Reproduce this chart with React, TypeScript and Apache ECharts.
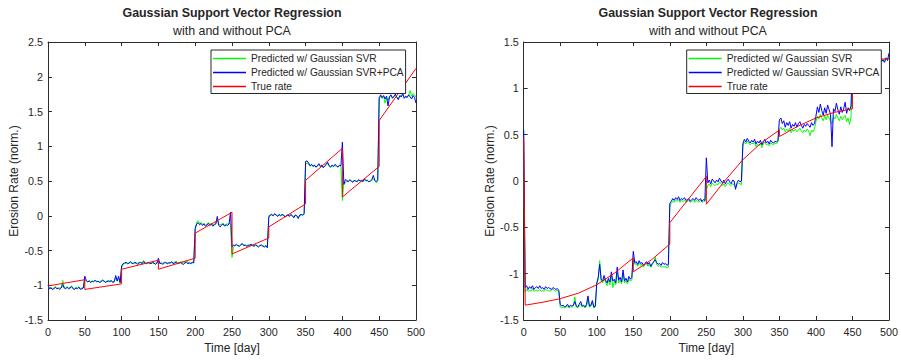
import React, { useEffect, useRef } from "react";
import * as echarts from "echarts";

// ---------- DATA ----------
const TITLE = "Gaussian Support Vector Regression";
const SUBTITLE = "with and without PCA";
const X_NAME = "Time [day]";
const Y_NAME = "Erosion Rate (norm.)";
const SERIES_NAMES = ["Predicted w/ Gaussian SVR", "Predicted w/ Gaussian SVR+PCA", "True rate"];

// sample days for predicted series: 0, 2, 4, ..., 500
const DAY_STEP = 2;
const N_SAMPLES = 251;
const DAYS = Array.from({ length: N_SAMPLES }, (_, i) => i * DAY_STEP);

// Left panel — predicted (Gaussian SVR)
const svrL = [
  -1.02,-1.04,-1.03,-1.05,-1.04,-1.02,-1.04,-1.05,-1.04,-1.03,-0.93,-1.03,-1.04,-1.02,-1.04,-1.03,-1.01,-1.04,-1.05,-1.03,-1.04,-1.02,-1.05,-1.04,-1.03,
  -0.93,-0.94,-0.95,-0.93,-0.95,-0.95,-0.94,-0.93,-0.94,-0.95,-0.95,-0.94,-0.92,-0.94,-0.95,-0.94,-0.93,-0.94,-0.94,-0.95,-0.94,-0.89,-0.93,-0.90,-0.97,
  -0.75,-0.70,-0.69,-0.68,-0.68,-0.69,-0.67,-0.69,-0.68,-0.68,-0.69,-0.68,-0.67,-0.68,-0.68,-0.64,-0.69,-0.68,-0.68,-0.69,-0.68,-0.68,-0.69,-0.68,-0.69,
  -0.66,-0.68,-0.69,-0.68,-0.67,-0.68,-0.68,-0.67,-0.68,-0.67,-0.68,-0.67,-0.65,-0.68,-0.67,-0.68,-0.66,-0.68,-0.67,-0.64,-0.68,-0.67,-0.68,-0.68,-0.67,
  -0.20,-0.09,-0.07,-0.11,-0.10,-0.12,-0.11,-0.13,-0.12,-0.10,-0.12,-0.11,-0.13,-0.12,-0.11,-0.06,-0.12,-0.13,-0.12,-0.11,-0.13,-0.12,-0.12,-0.11,-0.12,
  -0.60,-0.45,-0.43,-0.42,-0.43,-0.43,-0.41,-0.41,-0.42,-0.43,-0.43,-0.42,-0.43,-0.42,-0.43,-0.43,-0.42,-0.44,-0.44,-0.42,-0.43,-0.43,-0.44,-0.44,-0.45,
  0.00,0.01,0.01,0.00,0.02,0.01,0.00,0.01,0.00,0.01,0.01,-0.01,0.00,0.01,0.00,0.01,0.00,-0.01,0.01,0.00,-0.02,0.00,0.01,0.01,0.02,
  0.74,0.76,0.74,0.71,0.73,0.71,0.72,0.70,0.71,0.73,0.71,0.72,0.70,0.71,0.73,0.75,0.71,0.70,0.72,0.71,0.72,0.71,0.70,0.72,0.71,
  0.22,0.48,0.47,0.50,0.49,0.51,0.50,0.49,0.50,0.50,0.49,0.51,0.50,0.50,0.49,0.52,0.50,0.50,0.49,0.50,0.51,0.53,0.50,0.48,0.49,
  1.68,1.72,1.69,1.72,1.62,1.70,1.66,1.72,1.73,1.70,1.71,1.73,1.71,1.69,1.72,1.72,1.74,1.70,1.71,1.71,1.73,1.80,1.72,1.76,1.74,
  1.70,
];

// Left panel — predicted (Gaussian SVR + PCA)
const pcaL = [
  -1.00,-1.05,-1.04,-1.06,-1.05,-1.03,-1.05,-1.04,-1.06,-1.04,-0.99,-1.04,-1.05,-1.03,-1.05,-1.04,-1.02,-1.05,-1.06,-1.04,-1.05,-1.03,-1.06,-1.05,-1.04,
  -0.87,-0.93,-0.95,-0.94,-0.96,-0.94,-0.95,-0.93,-0.95,-0.94,-0.96,-0.95,-0.93,-0.94,-0.96,-0.95,-0.94,-0.95,-0.93,-0.96,-0.95,-0.86,-0.94,-0.87,-0.96,
  -0.72,-0.69,-0.68,-0.67,-0.69,-0.68,-0.66,-0.68,-0.69,-0.67,-0.68,-0.70,-0.68,-0.67,-0.69,-0.66,-0.68,-0.69,-0.67,-0.68,-0.69,-0.67,-0.68,-0.70,-0.68,
  -0.61,-0.69,-0.68,-0.70,-0.68,-0.67,-0.69,-0.68,-0.68,-0.66,-0.69,-0.68,-0.67,-0.69,-0.68,-0.67,-0.69,-0.70,-0.68,-0.67,-0.69,-0.68,-0.69,-0.67,-0.68,
  -0.18,-0.12,-0.10,-0.13,-0.11,-0.14,-0.12,-0.15,-0.13,-0.11,-0.14,-0.12,-0.15,-0.13,-0.12,-0.01,-0.14,-0.16,-0.13,-0.12,-0.15,-0.13,-0.14,-0.12,0.05,
  -0.45,-0.42,-0.43,-0.41,-0.43,-0.44,-0.42,-0.40,-0.43,-0.42,-0.44,-0.43,-0.42,-0.41,-0.43,-0.44,-0.42,-0.43,-0.45,-0.43,-0.42,-0.44,-0.45,-0.43,-0.46,
  -0.02,0.01,0.02,0.00,0.03,0.01,-0.01,0.02,0.00,0.02,0.01,-0.02,0.00,0.01,-0.01,0.02,0.00,-0.03,0.01,0.00,-0.04,0.01,0.02,0.01,0.03,
  0.78,0.79,0.76,0.72,0.74,0.71,0.73,0.70,0.72,0.75,0.71,0.73,0.69,0.72,0.74,0.77,0.72,0.70,0.73,0.71,0.74,0.72,0.70,0.73,0.72,
  1.06,0.45,0.52,0.51,0.49,0.52,0.50,0.48,0.51,0.50,0.49,0.52,0.50,0.51,0.49,0.53,0.51,0.51,0.49,0.50,0.52,0.58,0.51,0.49,0.52,
  1.70,1.74,1.70,1.73,1.68,1.72,1.58,1.71,1.74,1.69,1.72,1.75,1.70,1.67,1.73,1.71,1.76,1.69,1.72,1.70,1.74,1.71,1.68,1.73,1.70,
  1.62,
];

// Left panel — true rate (day, value)
const trueDaysL = [0, 50, 50, 100, 100, 150, 150, 200, 200, 250, 250, 300, 300, 350, 350, 400, 400, 450, 450, 500];
const trueRateL = [-1.01, -0.92, -1.06, -0.98, -0.77, -0.64, -0.77, -0.61, -0.25, 0.05, -0.55, -0.32, -0.16, 0.17, 0.51, 0.97, 0.27, 0.71, 1.37, 2.12];

// Right panel — predicted (Gaussian SVR)
const svrR = [
  0.42,-1.20,-1.17,-1.19,-1.18,-1.19,-1.16,-1.19,-1.18,-1.18,-1.19,-1.17,-1.19,-1.18,-1.19,-1.17,-1.18,-1.18,-1.19,-1.18,-1.17,-1.18,-1.19,-1.18,-1.19,
  -1.36,-1.37,-1.36,-1.37,-1.36,-1.35,-1.37,-1.36,-1.36,-1.35,-1.25,-1.36,-1.37,-1.35,-1.33,-1.36,-1.35,-1.37,-1.35,-1.28,-1.36,-1.35,-1.31,-1.37,-1.36,
  -1.12,-1.06,-0.86,-1.08,-1.10,-1.05,-1.09,-1.13,-1.07,-1.12,-1.02,-1.15,-1.08,-1.12,-0.98,-1.10,-1.07,-1.11,-1.00,-1.10,-1.08,-1.11,-1.06,-1.08,-1.07,
  -0.85,-0.90,-0.89,-0.92,-0.88,-0.91,-0.90,-0.93,-0.90,-0.89,-0.92,-0.90,-0.93,-0.90,-0.88,-0.82,-0.90,-0.92,-0.91,-0.93,-0.92,-0.93,-0.92,-0.94,-0.93,
  -0.28,-0.24,-0.22,-0.23,-0.21,-0.22,-0.20,-0.23,-0.21,-0.22,-0.21,-0.23,-0.22,-0.21,-0.23,-0.22,-0.21,-0.23,-0.21,-0.22,-0.23,-0.21,-0.23,-0.22,-0.22,
  -0.10,-0.05,-0.03,-0.06,-0.02,-0.04,-0.05,-0.03,-0.04,-0.01,-0.03,-0.05,-0.03,-0.06,-0.03,-0.02,-0.04,-0.05,-0.03,-0.04,-0.07,-0.04,-0.02,-0.03,-0.04,
  0.38,0.42,0.40,0.43,0.41,0.39,0.41,0.40,0.42,0.37,0.40,0.38,0.41,0.36,0.40,0.42,0.39,0.40,0.38,0.41,0.40,0.39,0.41,0.40,0.42,
  0.56,0.58,0.55,0.57,0.53,0.56,0.54,0.57,0.52,0.55,0.54,0.56,0.53,0.55,0.57,0.54,0.52,0.55,0.53,0.56,0.54,0.49,0.55,0.53,0.56,
  0.64,0.70,0.67,0.72,0.68,0.65,0.70,0.66,0.71,0.68,0.64,0.62,0.69,0.67,0.72,0.68,0.65,0.70,0.66,0.69,0.71,0.64,0.68,0.61,0.69,
  1.30,1.33,1.21,1.29,1.32,1.30,1.34,1.28,1.31,1.30,1.27,1.31,1.33,1.30,1.29,1.28,1.32,1.31,1.27,1.30,1.31,1.29,1.30,1.32,1.31,
  1.33,
];

// Right panel — predicted (Gaussian SVR + PCA)
const pcaR = [
  0.55,-1.15,-1.13,-1.17,-1.14,-1.16,-1.13,-1.17,-1.15,-1.14,-1.16,-1.13,-1.16,-1.15,-1.17,-1.14,-1.16,-1.15,-1.16,-1.17,-1.15,-1.16,-1.17,-1.16,-1.18,
  -1.33,-1.35,-1.34,-1.36,-1.35,-1.33,-1.36,-1.34,-1.35,-1.34,-1.30,-1.35,-1.36,-1.33,-1.30,-1.35,-1.34,-1.36,-1.33,-1.24,-1.35,-1.34,-1.29,-1.36,-1.35,
  -1.10,-1.04,-0.90,-1.06,-1.08,-1.02,-1.07,-1.10,-1.05,-1.09,-0.98,-1.08,-1.06,-1.10,-0.93,-1.07,-1.04,-1.09,-0.96,-1.08,-1.05,-1.09,-1.03,-1.06,-1.04,
  -0.76,-0.88,-0.87,-0.90,-0.86,-0.89,-0.88,-0.91,-0.89,-0.87,-0.90,-0.88,-0.92,-0.89,-0.87,-0.85,-0.88,-0.90,-0.89,-0.91,-0.88,-0.90,-0.89,-0.91,-0.90,
  -0.24,-0.22,-0.19,-0.21,-0.18,-0.20,-0.17,-0.21,-0.19,-0.20,-0.18,-0.21,-0.20,-0.19,-0.22,-0.20,-0.19,-0.21,-0.18,-0.20,-0.21,-0.19,-0.22,-0.20,-0.21,
  0.25,-0.02,0.01,-0.03,0.02,0.00,-0.02,0.01,-0.01,0.03,0.00,-0.02,0.01,-0.03,0.00,0.02,-0.01,-0.03,0.01,0.00,-0.09,-0.02,0.01,-0.01,0.00,
  0.40,0.45,0.42,0.46,0.43,0.41,0.44,0.42,0.45,0.40,0.43,0.41,0.44,0.39,0.42,0.45,0.41,0.43,0.40,0.44,0.42,0.41,0.43,0.42,0.44,
  0.66,0.68,0.62,0.65,0.58,0.63,0.60,0.64,0.57,0.61,0.59,0.63,0.58,0.62,0.64,0.60,0.57,0.61,0.59,0.62,0.60,0.58,0.63,0.60,0.62,
  0.70,0.80,0.74,0.83,0.76,0.71,0.79,0.73,0.82,0.77,0.72,0.37,0.78,0.75,0.84,0.77,0.72,0.80,0.74,0.78,0.85,0.73,0.79,0.76,0.81,
  1.28,1.32,1.27,1.30,1.34,1.29,1.31,1.26,1.33,1.30,1.28,1.32,1.35,1.29,1.31,1.27,1.33,1.30,1.26,1.32,1.29,1.31,1.28,1.33,1.30,
  1.38,
];

// Right panel — true rate (day, value)
const trueDaysR = [0, 2, 25, 50, 75, 100, 125, 150, 150, 175, 200, 200, 225, 250, 250, 275, 300, 325, 350, 350, 375, 400, 425, 450, 450, 475, 500];
const trueRateR = [0.47, -1.34, -1.31, -1.27, -1.21, -1.12, -0.99, -0.83, -0.98, -0.85, -0.68, -0.45, -0.2, 0.05, -0.25, 0.0, 0.23, 0.41, 0.55, 0.48, 0.59, 0.68, 0.74, 0.78, 1.31, 1.31, 1.32];

// Axis ranges / ticks
const X_MIN = 0, X_MAX = 500, X_INTERVAL = 50;
const Y_L_MIN = -1.5, Y_L_MAX = 2.5;
const Y_R_MIN = -1.5, Y_R_MAX = 1.5;
const Y_INTERVAL = 0.5;

// ---------- STYLE ----------
const FONT = "'Liberation Sans', Arial, Helvetica, sans-serif";
const INK = "#262626";
const AXIS_COLOR = "#2b2b2b";
const COLORS = ["#00ff00", "#0000ff", "#ff0000"];

const PANELS = [
  { left: 48, width: 368, center: 232 },
  { left: 523.7, width: 368.6, center: 708 },
];
const GRID_TOP = 42;
const GRID_HEIGHT = 278;

function axisPair(kind: "x" | "y", gridIndex: number, min: number, max: number, interval: number, withName: boolean) {
  const common = {
    gridIndex,
    type: "value",
    min,
    max,
    interval,
    splitLine: { show: false },
    axisLine: { show: true, onZero: false, lineStyle: { color: AXIS_COLOR, width: 1 } },
    axisTick: { show: true, inside: true, length: 4, lineStyle: { color: AXIS_COLOR, width: 1 } },
  };
  const main: any = {
    ...common,
    position: kind === "x" ? "bottom" : "left",
    axisLabel: {
      show: true,
      color: INK,
      fontFamily: FONT,
      fontSize: 10.8,
      margin: kind === "x" ? 6 : 5,
    },
  };
  if (withName) {
    main.name = kind === "x" ? X_NAME : Y_NAME;
    main.nameLocation = "middle";
    main.nameGap = kind === "x" ? 22 : 28;
    main.nameTextStyle = { color: INK, fontFamily: FONT, fontSize: 12 };
  }
  const mirror: any = {
    ...common,
    position: kind === "x" ? "top" : "right",
    axisLabel: { show: false },
  };
  return [main, mirror];
}

function makeLegend(panel: number) {
  const p = PANELS[panel];
  return {
    orient: "vertical",
    left: p.left + 163,
    top: 50,
    padding: [1.5, 2, 0, 2],
    itemWidth: 33,
    itemHeight: 1.5,
    itemGap: 0,
    icon: "rect",
    backgroundColor: "#ffffff",
    borderColor: INK,
    borderWidth: 1,
    borderRadius: 0,
    selectedMode: false,
    data: SERIES_NAMES,
    textStyle: { color: INK, fontFamily: FONT, fontSize: 10.2, lineHeight: 14 },
  };
}

export default function App() {
  const ref = useRef<HTMLDivElement>(null);

  useEffect(() => {
    if (!ref.current) return;
    const chart = echarts.init(ref.current, undefined, { renderer: "svg" });

    const [xL, xLTop] = axisPair("x", 0, X_MIN, X_MAX, X_INTERVAL, true);
    const [xR, xRTop] = axisPair("x", 1, X_MIN, X_MAX, X_INTERVAL, true);
    const [yL, yLRight] = axisPair("y", 0, Y_L_MIN, Y_L_MAX, Y_INTERVAL, true);
    const [yR, yRRight] = axisPair("y", 1, Y_R_MIN, Y_R_MAX, Y_INTERVAL, true);

    const predicted = [
      [svrL, pcaL],
      [svrR, pcaR],
    ];
    const truth = [
      [trueDaysL, trueRateL],
      [trueDaysR, trueRateR],
    ];
    // axis indices: x: 0 left-bottom, 1 left-top, 2 right-bottom, 3 right-top
    // y: 0 left-left, 1 left-right, 2 right-left, 3 right-right
    const series: any[] = [];
    [0, 1].forEach((panel) => {
      const xi = panel * 2;
      const yi = panel * 2;
      predicted[panel].forEach((vals, k) => {
        series.push({
          type: "line",
          name: SERIES_NAMES[k],
          xAxisIndex: xi,
          yAxisIndex: yi,
          data: DAYS.map((d, i) => [d, vals[i]]),
          showSymbol: false,
          symbol: "none",
          lineStyle: { color: COLORS[k], width: 1 },
          itemStyle: { color: COLORS[k] },
          silent: true,
        });
      });
      const [td, tv] = truth[panel];
      series.push({
        type: "line",
        name: SERIES_NAMES[2],
        xAxisIndex: xi,
        yAxisIndex: yi,
        data: td.map((d, i) => [d, tv[i]]),
        showSymbol: false,
        symbol: "none",
        lineStyle: { color: COLORS[2], width: 1 },
        itemStyle: { color: COLORS[2] },
        silent: true,
      });
    });

    chart.setOption({
      animation: false,
      backgroundColor: "#ffffff",
      title: PANELS.map((p) => ({
        text: TITLE,
        subtext: SUBTITLE,
        left: p.center,
        top: 5.5,
        textAlign: "center",
        itemGap: 3.3,
        padding: 0,
        textStyle: { color: INK, fontFamily: FONT, fontSize: 12.4, fontWeight: "bold", lineHeight: 15 },
        subtextStyle: { color: INK, fontFamily: FONT, fontSize: 12.4, lineHeight: 15 },
      })),
      grid: PANELS.map((p) => ({
        left: p.left,
        top: GRID_TOP,
        width: p.width,
        height: GRID_HEIGHT,
        containLabel: false,
      })),
      xAxis: [xL, xLTop, xR, xRTop],
      yAxis: [yL, yLRight, yR, yRRight],
      legend: [makeLegend(0), makeLegend(1)],
      series,
    });

    return () => chart.dispose();
  }, []);

  return (
    <div
      ref={ref}
      style={{ position: "absolute", left: 0, top: 0, width: 901, height: 360, background: "#fff" }}
    />
  );
}
